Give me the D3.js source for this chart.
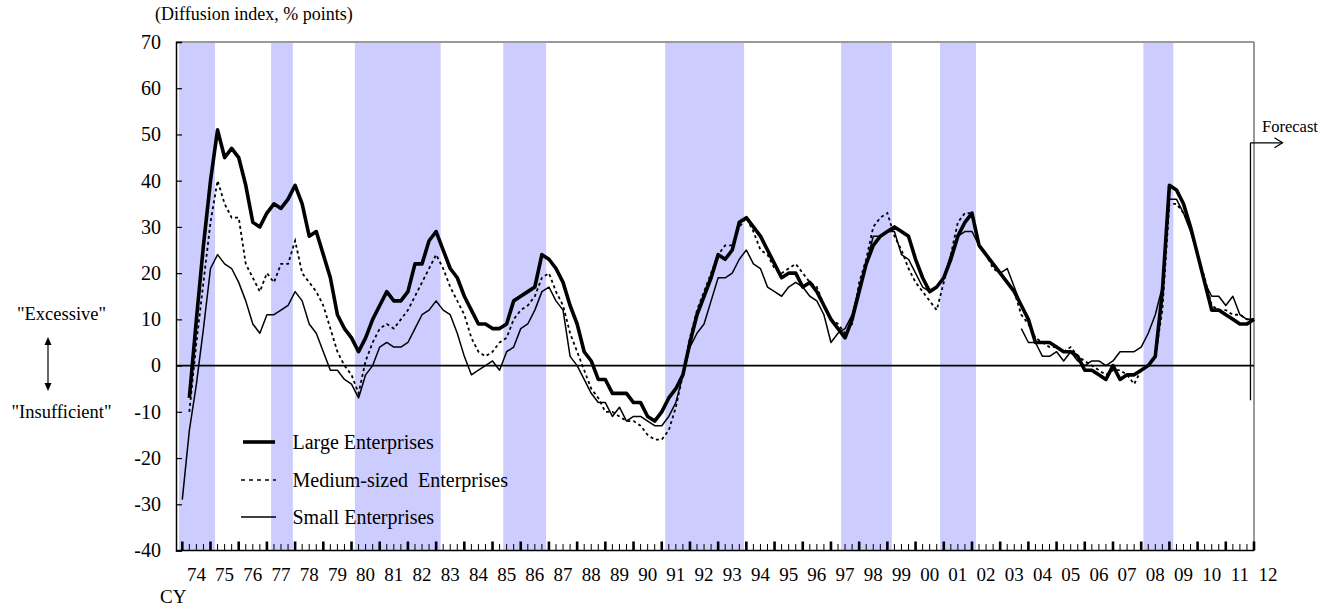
<!DOCTYPE html>
<html><head><meta charset="utf-8">
<script src="https://cdn.jsdelivr.net/npm/d3@7"></script>
<style>
body{margin:0;background:#fff}
text{font-family:"Liberation Serif","Times New Roman",serif;fill:#000}
</style>
</head><body>
<svg id="c" width="1319" height="606"></svg>
<script>
// quarterly data, index 0 = 1974 Q1
const firstYear = 1974;
const largeValues = [
 null,-7,10,26,40,51,45,47,45,39,
 31,30,33,35,34,36,39,35,28,29,
 24,19,11,8,6,3,6,10,13,16,
 14,14,16,22,22,27,29,25,21,19,
 15,12,9,9,8,8,9,14,15,16,
 17,24,23,21,18,13,9,3,1,-3,
 -3,-6,-6,-6,-8,-8,-11,-12,-10,-7,
 -5,-2,5,11,15,19,24,23,25,31,
 32,30,28,25,22,19,20,20,17,18,
 16,13,10,8,6,10,16,22,26,28,
 29,30,29,28,23,19,16,17,19,23,
 28,31,33,26,24,22,20,18,16,13,
 10,5,5,5,4,3,3,2,-1,-1,
 -2,-3,0,-3,-2,-2,-1,0,2,16,
 39,38,35,30,24,18,12,12,11,10,
 9,9,10];
const mediumValues = [
 null,-10,5,18,31,40,35,32,32,22,
 19,16,20,18,22,22,27,20,18,16,
 13,8,3,0,-2,-6,1,5,8,9,
 8,10,12,15,18,21,24,21,17,14,
 11,6,3,2,3,5,6,10,12,13,
 15,19,20,16,13,7,3,-1,-5,-7,
 -10,-10,-11,-12,-12,-13,-15,-16,-16,-14,
 -9,-2,6,12,16,20,24,26,26,30,
 32,29,25,24,21,20,21,22,20,18,
 17,13,10,9,7,9,18,23,30,32,
 33,28,25,21,18,16,14,12,18,24,
 31,33,33,26,24,21,20,18,16,11,
 9,6,5,4,4,3,4,2,1,0,
 -1,-2,-1,-1,-2,-4,-1,0,2,12,
 35,35,33,30,24,19,13,12,12,11,
 11,10,10];
// small enterprises, old basis (1974 Q1 - 2003 Q4)
const smallOldValues = [
 -29,-14,-4,8,21,24,22,21,18,14,
 9,7,11,11,12,13,16,14,9,7,
 3,-1,-1,-3,-4,-7,-2,0,4,5,
 4,4,5,8,11,12,14,12,11,7,
 2,-2,-1,0,1,-1,3,4,8,9,
 12,16,17,14,12,2,0,-3,-6,-8,
 -8,-11,-9,-12,-11,-11,-12,-13,-13,-11,
 -8,-2,4,7,9,14,19,19,20,23,
 25,22,21,17,16,15,17,18,17,15,
 14,11,5,7,8,11,17,22,28,28,
 29,29,24,23,20,17,16,17,19,24,
 28,29,29,26,24,22,20,21,17,13];
// small enterprises, new basis (from 2003 Q4)
const smallNewStart = 119;
const smallNewValues = [
 8,5,5,2,2,3,1,3,1,0,
 1,1,0,1,3,3,3,4,7,11,
 17,36,36,33,29,24,18,15,15,13,
 15,11,10,10];
const recessionStarts = [1973.88,1977.15,1980.12,1985.38,1991.12,1997.36,2000.87,2008.08];
const recessionEnds   = [1975.16,1977.92,1983.16,1986.90,1993.92,1999.16,2002.14,2009.14];
const yTicks = [-40,-30,-20,-10,0,10,20,30,40,50,60,70];
const yearStarts = d3.range(1974, 2013);
const yearLabels = yearStarts.map(y => String(y % 100).padStart(2, "0"));
const seriesNames = ["Large Enterprises", "Medium-sized  Enterprises", "Small Enterprises"];
const forecastTime = 2011.875;

const svg = d3.select("#c");
const L = 176, R = 1254, T = 42, B = 550.5;
const x = d3.scaleLinear().domain([1974, 2012]).range([182.3, 1254]);
const y = d3.scaleLinear().domain([-40, 70]).range([B, T]);
const tq = k => firstYear + k / 4;

// recession shading
const bands = recessionStarts.map((s, i) => [s, recessionEnds[i]]);
svg.append("g").selectAll("rect").data(bands).join("rect")
  .attr("x", d => Math.max(x(d[0]), L + 3))
  .attr("width", d => x(d[1]) - Math.max(x(d[0]), L + 3))
  .attr("y", T + 1).attr("height", B - T - 1)
  .attr("fill", "#ccccff");

// frame: top and right gray
svg.append("line").attr("x1", L).attr("x2", R).attr("y1", T).attr("y2", T)
  .attr("stroke", "#777").attr("stroke-width", 1.5);
svg.append("line").attr("x1", R).attr("x2", R).attr("y1", T).attr("y2", B)
  .attr("stroke", "#777").attr("stroke-width", 1.5);

// y axis
const yAxis = d3.axisLeft(y).tickValues(yTicks).tickSize(-6).tickPadding(15).tickFormat(d => String(d));
const gy = svg.append("g").attr("transform", `translate(${L},0)`).call(yAxis);
gy.select(".domain").attr("stroke", "#000").attr("stroke-width", 1.5);
gy.selectAll(".tick line").attr("stroke", "#000").attr("stroke-width", 1.2);
gy.selectAll(".tick text").attr("font-size", 20).attr("font-family", "Liberation Serif").attr("fill", "#000");

// x axis: minor quarter ticks, major year ticks
const quarterTicks = d3.range(0, 152).filter(k => k % 4 !== 0).map(tq);
const gx = svg.append("g");
gx.selectAll("line.minor").data(quarterTicks).join("line")
  .attr("x1", d => x(d)).attr("x2", d => x(d)).attr("y1", B - 6.5).attr("y2", B)
  .attr("stroke", "#000").attr("stroke-width", 1);
gx.selectAll("line.major").data(yearStarts).join("line")
  .attr("x1", d => x(d)).attr("x2", d => x(d)).attr("y1", B - 9).attr("y2", B)
  .attr("stroke", "#000").attr("stroke-width", 2.6);
gx.append("line").attr("x1", L).attr("x2", R).attr("y1", B).attr("y2", B)
  .attr("stroke", "#000").attr("stroke-width", 1.5);
gx.selectAll("text").data(yearStarts).join("text")
  .attr("x", d => x(d + 0.5)).attr("y", 581)
  .attr("text-anchor", "middle").attr("font-size", 19)
  .text((d, i) => yearLabels[i]);
svg.append("text").attr("x", 160).attr("y", 603).attr("font-size", 19).text("CY");

// zero line
svg.append("line").attr("x1", L).attr("x2", R).attr("y1", y(0)).attr("y2", y(0))
  .attr("stroke", "#000").attr("stroke-width", 1.6);

// series
const line = d3.line().defined(d => d.v != null).x(d => x(d.t)).y(d => y(d.v));
const toPts = (arr, start) => arr.map((v, i) => ({t: tq(start + i), v}));
svg.append("path").datum(toPts(smallOldValues, 0)).attr("d", line)
  .attr("fill", "none").attr("stroke", "#000").attr("stroke-width", 1.5).attr("stroke-linejoin", "round");
svg.append("path").datum(toPts(smallNewValues, smallNewStart)).attr("d", line)
  .attr("fill", "none").attr("stroke", "#000").attr("stroke-width", 1.5).attr("stroke-linejoin", "round");
svg.append("path").datum(toPts(mediumValues, 0)).attr("d", line)
  .attr("fill", "none").attr("stroke", "#000").attr("stroke-width", 1.8).attr("stroke-dasharray", "3,3");
svg.append("path").datum(toPts(largeValues, 0)).attr("d", line)
  .attr("fill", "none").attr("stroke", "#000").attr("stroke-width", 3.6).attr("stroke-linejoin", "round");

// legend
const legY = [442, 480, 517];
const legStyle = [{w: 3.6, dash: null, x1: 243, x2: 275}, {w: 1.5, dash: "4,4", x1: 241, x2: 276}, {w: 1.5, dash: null, x1: 241, x2: 276}];
seriesNames.forEach((name, i) => {
  const ln = svg.append("line").attr("x1", legStyle[i].x1).attr("x2", legStyle[i].x2)
    .attr("y1", legY[i]).attr("y2", legY[i]).attr("stroke", "#000").attr("stroke-width", legStyle[i].w);
  if (legStyle[i].dash) ln.attr("stroke-dasharray", legStyle[i].dash);
  svg.append("text").attr("x", 292.5).attr("y", legY[i] + 6.5).attr("font-size", 20)
    .attr("xml:space", "preserve").style("white-space", "pre").text(name);
});

// title
svg.append("text").attr("x", 155).attr("y", 20).attr("font-size", 18).text("(Diffusion index, % points)");

// forecast marker
const fx = x(forecastTime);
svg.append("line").attr("x1", fx).attr("x2", fx).attr("y1", y(48.2)).attr("y2", y(-7.5))
  .attr("stroke", "#000").attr("stroke-width", 1.3);
svg.append("line").attr("x1", fx).attr("x2", fx + 32).attr("y1", y(48.2)).attr("y2", y(48.2))
  .attr("stroke", "#000").attr("stroke-width", 1.3);
svg.append("path").attr("d", `M${fx + 24},${y(48.2) - 5}L${fx + 32},${y(48.2)}L${fx + 24},${y(48.2) + 5}`)
  .attr("fill", "none").attr("stroke", "#000").attr("stroke-width", 1.3);
svg.append("text").attr("x", 1262).attr("y", 132).attr("font-size", 16.5).text("Forecast");

// left annotation
svg.append("text").attr("x", 61.5).attr("y", 320).attr("text-anchor", "middle").attr("font-size", 18.5).text("\"Excessive\"");
svg.append("text").attr("x", 61.5).attr("y", 418).attr("text-anchor", "middle").attr("font-size", 18.5).text("\"Insufficient\"");
svg.append("line").attr("x1", 48).attr("x2", 48).attr("y1", 342).attr("y2", 386).attr("stroke", "#000").attr("stroke-width", 1.2);
svg.append("path").attr("d", "M48,337L44.5,345L51.5,345Z M48,391L44.5,383L51.5,383Z").attr("fill", "#000");
</script>
</body></html>
